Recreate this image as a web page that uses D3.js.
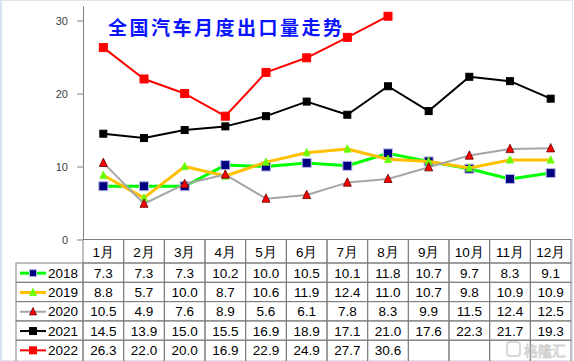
<!DOCTYPE html>
<html>
<head>
<meta charset="utf-8">
<script src="https://cdn.jsdelivr.net/npm/d3@7"></script>
<style>
	html, body { margin: 0; padding: 0; background: #fff; }
	svg { display: block; font-family: 'Liberation Sans', Arial, sans-serif; }
	.axis path, .axis line { stroke: #808080; }
	.axis text { fill: #404040; font-size: 11px; }
	.cell { fill: none; stroke: #7f7f7f; stroke-width: 1; }
	.cell-text { font-size: 13.5px; fill: #000; }
</style>
</head>
<body>
<svg id="chart"></svg>
<script>
const MONTHS = ['1月', '2月', '3月', '4月', '5月', '6月', '7月', '8月', '9月', '10月', '11月', '12月'];
const YEARS = ['2018', '2019', '2020', '2021', '2022'];

const V2018 = [7.3, 7.3, 7.3, 10.2, 10.0, 10.5, 10.1, 11.8, 10.7, 9.7, 8.3, 9.1];
const V2019 = [8.8, 5.7, 10.0, 8.7, 10.6, 11.9, 12.4, 11.0, 10.7, 9.8, 10.9, 10.9];
const V2020 = [10.5, 4.9, 7.6, 8.9, 5.6, 6.1, 7.8, 8.3, 9.9, 11.5, 12.4, 12.5];
const V2021 = [14.5, 13.9, 15.0, 15.5, 16.9, 18.9, 17.1, 21.0, 17.6, 22.3, 21.7, 19.3];
const V2022 = [26.3, 22.0, 20.0, 16.9, 22.9, 24.9, 27.7, 30.6, null, null, null, null];

const Y_TICKS = [0, 10, 20, 30];
const TITLE = '全国汽车月度出口量走势';

// styles per series, drawn in this order
const STYLES = [
	{ line: '#00ff00', width: 3, shape: 'square', size: 9, fill: '#000080', stroke: '#b8b8e8' },
	{ line: '#ffc000', width: 3, shape: 'triangle', size: 7, fill: '#66ff00', stroke: '#66ff00' },
	{ line: '#a6a6a6', width: 2, shape: 'triangle', size: 8, fill: '#ff0000', stroke: '#600000' },
	{ line: '#000000', width: 2, shape: 'square', size: 7, fill: '#000000', stroke: '#000000' },
	{ line: '#ff0000', width: 2, shape: 'square', size: 8, fill: '#ff0000', stroke: '#ff0000' }
];

const SERIES = [V2018, V2019, V2020, V2021, V2022];

const W = 574, H = 361;
const PLOT = { left: 83, right: 571, top: 6, bottom: 239.5 };
const TABLE = { legendLeft: 16, headerBottom: 263, rowH: 19.3 };

const svg = d3.select('#chart')
	.attr('width', W)
	.attr('height', H);

// outer frame
svg.append('rect')
	.attr('x', 0.5).attr('y', 0.5)
	.attr('width', W - 2).attr('height', H - 1)
	.attr('fill', '#fff')
	.attr('stroke', '#dfe6f0');
svg.append('rect')
	.attr('x', 0).attr('y', 0)
	.attr('width', 2).attr('height', H)
	.attr('fill', '#d6e2f3');

const x = d3.scaleBand().domain(MONTHS).range([PLOT.left, PLOT.right]);
const y = d3.scaleLinear().domain([0, 32]).range([PLOT.bottom, PLOT.top]);
const cx = m => x(m) + x.bandwidth() / 2;

// Y-Axis
svg.append('g')
	.attr('class', 'axis')
	.attr('transform', 'translate(' + PLOT.left + ', 0)')
	.call(d3.axisLeft(y).tickValues(Y_TICKS).tickSize(6).tickSizeOuter(0).tickPadding(9));

// title
svg.append('text')
	.attr('x', 108)
	.attr('y', 26)
	.attr('dominant-baseline', 'central')
	.style('font-family', "'Noto Sans CJK SC', sans-serif")
	.style('font-size', '19px')
	.style('font-weight', 'bold')
	.style('letter-spacing', '2.5px')
	.attr('fill', '#0a14ff')
	.text(TITLE);

function marker(sel, st) {
	if (st.shape === 'square') {
		sel.append('rect')
			.attr('x', -st.size / 2).attr('y', -st.size / 2)
			.attr('width', st.size).attr('height', st.size)
			.attr('fill', st.fill)
			.attr('stroke', st.stroke)
			.attr('stroke-width', 1);
	} else {
		const s = st.size;
		sel.append('path')
			.attr('d', 'M0,' + (-s * 0.6) + 'L' + (s / 2) + ',' + (s * 0.45) + 'L' + (-s / 2) + ',' + (s * 0.45) + 'Z')
			.attr('fill', st.fill)
			.attr('stroke', st.stroke)
			.attr('stroke-width', 0.8);
	}
}

// lines + markers
SERIES.forEach((vals, i) => {
	const st = STYLES[i];
	const pts = MONTHS.map((m, j) => ({ m: m, v: vals[j] })).filter(d => d.v != null);

	svg.append('path')
		.attr('fill', 'none')
		.attr('stroke', st.line)
		.attr('stroke-width', st.width)
		.attr('stroke-linejoin', 'round')
		.attr('d', d3.line().x(d => cx(d.m)).y(d => y(d.v))(pts));

	svg.selectAll('.pt-' + i)
		.data(pts)
		.enter()
		.append('g')
			.attr('class', 'pt-' + i)
			.attr('transform', d => 'translate(' + cx(d.m) + ', ' + y(d.v) + ')')
			.each(function() { marker(d3.select(this), st); });
});

// data table
const table = svg.append('g');

MONTHS.forEach(m => {
	table.append('rect')
		.attr('class', 'cell')
		.attr('x', x(m)).attr('y', PLOT.bottom)
		.attr('width', x.bandwidth()).attr('height', TABLE.headerBottom - PLOT.bottom);
	table.append('text')
		.attr('class', 'cell-text')
		.attr('x', cx(m))
		.attr('y', (PLOT.bottom + TABLE.headerBottom) / 2 + 1)
		.attr('text-anchor', 'middle')
		.attr('dominant-baseline', 'central')
		.text(m);
});

YEARS.forEach((yr, i) => {
	const top = TABLE.headerBottom + i * TABLE.rowH;
	const h = i === YEARS.length - 1 ? H + 5 - top : TABLE.rowH;
	const mid = top + TABLE.rowH / 2 + 0.5;
	const st = STYLES[i];

	table.append('rect')
		.attr('class', 'cell')
		.attr('x', TABLE.legendLeft).attr('y', top)
		.attr('width', PLOT.left - TABLE.legendLeft).attr('height', h);

	table.append('line')
		.attr('x1', 20).attr('x2', 46)
		.attr('y1', mid).attr('y2', mid)
		.attr('stroke', st.line)
		.attr('stroke-width', st.width);
	marker(table.append('g').attr('transform', 'translate(33, ' + mid + ')'),
		Object.assign({}, st, { size: Math.min(st.size, 7) }));

	table.append('text')
		.attr('class', 'cell-text')
		.attr('x', 48)
		.attr('y', mid)
		.attr('dominant-baseline', 'central')
		.text(yr);

	MONTHS.forEach((m, j) => {
		table.append('rect')
			.attr('class', 'cell')
			.attr('x', x(m)).attr('y', top)
			.attr('width', x.bandwidth()).attr('height', h);
		const v = SERIES[i][j];
		if (v == null) return;
		table.append('text')
			.attr('class', 'cell-text')
			.attr('x', cx(m))
			.attr('y', mid)
			.attr('text-anchor', 'middle')
			.attr('dominant-baseline', 'central')
			.text(d3.format('.1f')(v));
	});
});

// watermark
const wm = svg.append('g').attr('opacity', 0.7);
wm.append('rect')
	.attr('x', 507).attr('y', 342)
	.attr('width', 13).attr('height', 14).attr('rx', 3)
	.attr('fill', 'none')
	.attr('stroke', '#c8c8c8')
	.attr('stroke-width', 2);
wm.append('text')
	.attr('x', 524).attr('y', 350)
	.attr('dominant-baseline', 'central')
	.style('font-family', "'Noto Sans CJK SC', sans-serif")
	.style('font-size', '14px')
	.attr('fill', '#fff')
	.attr('stroke', '#bdbdbd')
	.attr('stroke-width', 0.8)
	.text('格隆汇');
</script>
</body>
</html>
